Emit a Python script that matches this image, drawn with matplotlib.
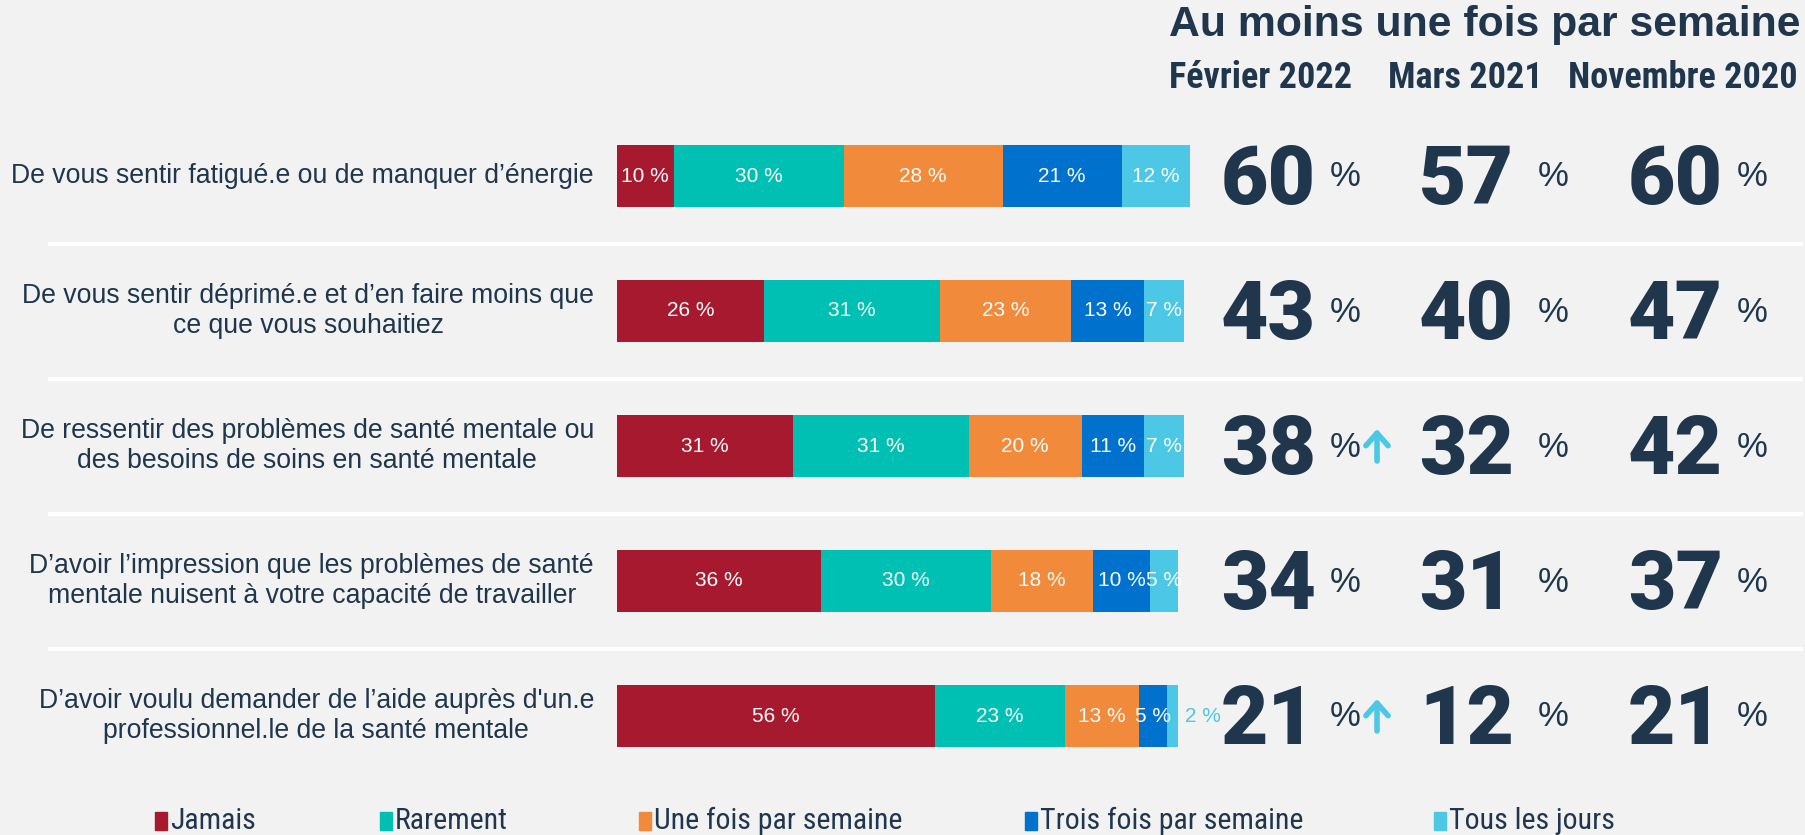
import matplotlib
matplotlib.use('Agg')
import matplotlib.pyplot as plt
from matplotlib import font_manager
from matplotlib.patches import Rectangle
import matplotlib.patheffects as pe

# ---------------- data ----------------
categories = [
    "De vous sentir fatigué.e ou de manquer d’énergie",
    "De vous sentir déprimé.e et d’en faire moins que\nce que vous souhaitiez",
    "De ressentir des problèmes de santé mentale ou\ndes besoins de soins en santé mentale",
    "D’avoir l’impression que les problèmes de santé\nmentale nuisent à votre capacité de travailler",
    "D’avoir voulu demander de l’aide auprès d'un.e\nprofessionnel.le de la santé mentale",
]
series_names = ["Jamais", "Rarement", "Une fois par semaine",
                "Trois fois par semaine", "Tous les jours"]
jamais = [10, 26, 31, 36, 56]
rarement = [30, 31, 31, 30, 23]
une_fois = [28, 23, 20, 18, 13]
trois_fois = [21, 13, 11, 10, 5]
tous_jours = [12, 7, 7, 5, 2]
series = [jamais, rarement, une_fois, trois_fois, tous_jours]
colors = ["#A6192E", "#00BFB3", "#F28A3C", "#0072CE", "#4CC7E6"]

title = "Au moins une fois par semaine"
periods = ["Février 2022", "Mars 2021", "Novembre 2020"]
fev2022 = [60, 43, 38, 34, 21]
mars2021 = [57, 40, 32, 31, 12]
nov2020 = [60, 47, 42, 37, 21]
hausse = [False, False, True, False, True]

# ---------------- style ----------------
BG = "#F2F2F2"
NAVY = "#1F364D"
plt.rcParams['font.family'] = ['Liberation Sans', 'DejaVu Sans']
fonts = font_manager.fontManager.ttflist
names = {f.name for f in fonts}
narrow = None
for cand in ["Liberation Sans Narrow", "Roboto Condensed", "Open Sans Condensed"]:
    if cand in names:
        narrow = cand
        break
if narrow is None:
    narrow = "Liberation Sans"

heavy, heavy_w = "Liberation Sans", "bold"
for cand in ["Roboto", "Lato", "Inter", "Open Sans", "Noto Sans"]:
    ws = [f.weight for f in fonts if f.name == cand and isinstance(f.weight, int)]
    if ws and max(ws) >= 800:
        heavy, heavy_w = cand, max(ws)
        break
stroke_w = 0.0 if isinstance(heavy_w, int) and heavy_w >= 900 else 2.0

W, H = 1806, 835
fig = plt.figure(figsize=(W / 100, H / 100), dpi=100, facecolor=BG)
ax = fig.add_axes([0, 0, 1, 1])
ax.set_facecolor(BG)
X0, PX = 617, 5.67       # pixel of 0 %, pixels per %
Y0, ROW = 176, 135       # pixel of first row centre, row spacing
ax.set_xlim(-X0 / PX, (W - X0) / PX)
ax.set_ylim((H - Y0) / ROW, -Y0 / ROW)
ax.axis('off')


def fx(x):
    return x / W


def fy(y):
    return 1 - y / H


rows = list(range(len(categories)))

# separators
ax.hlines([r + 0.5 for r in rows[:-1]], (48 - X0) / PX, (1803 - X0) / PX,
          color='white', lw=3, zorder=1)

# stacked bars
left = [0] * len(rows)
for name, vals, col in zip(series_names, series, colors):
    ax.barh(rows, vals, left=left, height=0.46, color=col, zorder=2,
            edgecolor='none')
    for r, v, l in zip(rows, vals, left):
        if v >= 5:
            ax.text(l + v / 2, r, f"{v} %", ha='center', va='center',
                    color='white', fontsize=15, zorder=3)
        else:
            ax.text(l + v + 4.4, r, f"{v} %", ha='center', va='center',
                    color=col, fontsize=15, zorder=3)
    left = [a + b for a, b in zip(left, vals)]

# category labels
for r, cat in zip(rows, categories):
    ax.text((594 - X0) / PX, r, cat, ha='right', va='center',
            multialignment='center', fontsize=19.2, color=NAVY,
            linespacing=1.22)

# header
fig.text(fx(1801), fy(25), title, ha='right', va='center',
         fontsize=30.8, fontweight='bold', color=NAVY)
for p, cx in zip(periods, [1261, 1465, 1683]):
    fig.text(fx(cx), fy(78), p, ha='center', va='center', family=narrow,
             fontsize=26, fontweight='bold', color=NAVY)

# big numbers
num_right = [1317, 1515, 1724]
pct_left = [1330, 1538, 1737]
effects = [pe.withStroke(linewidth=stroke_w, foreground=NAVY)] if stroke_w else []
for ci, vals in enumerate([fev2022, mars2021, nov2020]):
    for r, v in zip(rows, vals):
        yc = Y0 + ROW * r
        t = fig.text(fx(num_right[ci] - 1), fy(yc + 28), f"{v}", ha='right',
                     va='baseline', family=heavy, fontweight=heavy_w,
                     fontsize=59, color=NAVY)
        if effects:
            t.set_path_effects(effects)
        fig.text(fx(pct_left[ci]), fy(yc + 1), "%", ha='left', va='center',
                 fontsize=25, color=NAVY)

# arrows for significant increases
for r, h in zip(rows, hausse):
    if h:
        yc = Y0 + ROW * r
        ax.annotate("", xy=((1377 - X0) / PX, (yc - 17 - Y0) / ROW),
                    xytext=((1377 - X0) / PX, (yc + 15 - Y0) / ROW),
                    arrowprops=dict(arrowstyle='->,head_length=0.9,head_width=0.8',
                                    color=colors[4], lw=4, shrinkA=0, shrinkB=0))

# legend
sq_x = [161, 386, 645, 1031, 1440]
for name, col, sx in zip(series_names, colors, sq_x):
    fig.patches.append(Rectangle((fx(sx - 6), fy(830)), 12 / W, 18 / H,
                                 transform=fig.transFigure, color=col,
                                 figure=fig))
    fig.text(fx(sx + 9), fy(821), name, ha='left', va='center',
             family=narrow, fontsize=21.5, color=NAVY)

fig.savefig("out.png", dpi=100, facecolor=BG)
